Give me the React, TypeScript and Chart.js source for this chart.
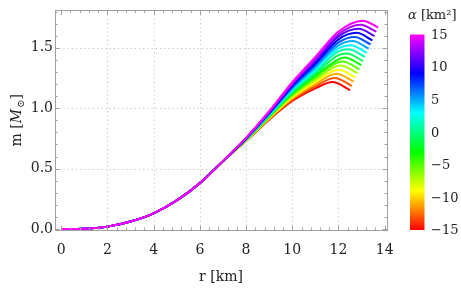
import React, { useEffect, useRef } from "react";
import { Chart, registerables } from "chart.js";

Chart.register(...registerables);

// ---- data ----
const alphaValues = [-15, -13, -11, -9, -7, -5, -3, -1, 1, 3, 5, 7, 9, 11, 13, 15];

// common inner part of every curve (r = 0..7 km)
const sharedRadii = [0, 1, 2, 3, 4, 5, 6, 7];
const sharedMass = [0, 0.003, 0.02, 0.062, 0.13, 0.237, 0.38, 0.562];

// per-curve values, one entry per alpha
const mass8 = [0.728, 0.730, 0.732, 0.734, 0.735, 0.737, 0.739, 0.741, 0.743, 0.745, 0.746, 0.748, 0.750, 0.752, 0.754, 0.755];
const mass9 = [0.905, 0.910, 0.914, 0.919, 0.924, 0.928, 0.933, 0.938, 0.942, 0.947, 0.952, 0.956, 0.961, 0.966, 0.970, 0.975];
const mass10 = [1.060, 1.070, 1.081, 1.091, 1.101, 1.112, 1.122, 1.132, 1.143, 1.153, 1.163, 1.174, 1.184, 1.194, 1.205, 1.215];
const mass11 = [1.165, 1.182, 1.200, 1.217, 1.234, 1.252, 1.269, 1.286, 1.304, 1.321, 1.338, 1.356, 1.373, 1.390, 1.408, 1.425];
const mass12 = [null, null, null, null, null, null, 1.405, 1.44, 1.47, 1.495, 1.52, 1.545, 1.57, 1.595, 1.615, 1.635];
const peakR = [11.75, 11.84, 11.92, 12.01, 12.10, 12.18, 12.27, 12.36, 12.44, 12.53, 12.62, 12.70, 12.79, 12.88, 12.96, 13.05];
const peakM = [1.217, 1.251, 1.285, 1.319, 1.353, 1.387, 1.420, 1.454, 1.488, 1.522, 1.556, 1.590, 1.624, 1.658, 1.692, 1.725];
const endR = [12.50, 12.58, 12.66, 12.74, 12.83, 12.91, 12.99, 13.07, 13.15, 13.23, 13.31, 13.39, 13.47, 13.56, 13.64, 13.72];
const endM = [1.150, 1.185, 1.220, 1.255, 1.290, 1.323, 1.357, 1.390, 1.425, 1.459, 1.493, 1.528, 1.562, 1.597, 1.634, 1.670];

// ticks
const xTicks = [0, 2, 4, 6, 8, 10, 12, 14];
const yTicks = [0, 0.5, 1.0, 1.5];
const xGrid = [2, 4, 6, 8, 10, 12];
const yGrid = [0.5, 1.0, 1.5];
const barTicks = [15, 10, 5, 0, -5, -10, -15];
const alphaMin = -15;
const alphaMax = 15;

const FONT = "'DejaVu Serif', 'Liberation Serif', serif";
const FRAME = "#a0a0a0";

function hueFor(a: number) {
  return ((a - alphaMin) / (alphaMax - alphaMin)) * 300;
}
function colorFor(a: number) {
  return `hsl(${hueFor(a)}, 100%, 50%)`;
}

function buildDatasets() {
  const n = alphaValues.length;
  return alphaValues.map((a, i) => {
    const pts: { x: number; y: number }[] = sharedRadii.map((r, k) => ({ x: r, y: sharedMass[k] }));
    pts.push({ x: 8, y: mass8[i] });
    pts.push({ x: 9, y: mass9[i] });
    pts.push({ x: 10, y: mass10[i] });
    pts.push({ x: 11, y: mass11[i] });
    if (mass12[i] != null) pts.push({ x: 12, y: mass12[i] as number });
    pts.push({ x: peakR[i], y: peakM[i] });
    pts.push({ x: endR[i], y: endM[i] });
    return {
      label: `alpha ${a}`,
      data: pts,
      borderColor: colorFor(a),
      backgroundColor: colorFor(a),
      borderWidth: 2,
      pointRadius: 0,
      fill: false,
      order: n - i,
      cubicInterpolationMode: "monotone" as const,
    };
  });
}

const decorPlugin = {
  id: "decor",
  beforeDatasetsDraw(chart: any) {
    const { ctx, chartArea, scales } = chart;
    const xs = scales.x;
    const ys = scales.y;
    ctx.save();
    ctx.strokeStyle = "rgba(150,150,150,0.55)";
    ctx.lineWidth = 1;
    ctx.setLineDash([1.2, 3]);
    xGrid.forEach((v) => {
      const px = Math.round(xs.getPixelForValue(v)) + 0.5;
      ctx.beginPath();
      ctx.moveTo(px, chartArea.top);
      ctx.lineTo(px, chartArea.bottom);
      ctx.stroke();
    });
    yGrid.forEach((v) => {
      const py = Math.round(ys.getPixelForValue(v)) + 0.5;
      ctx.beginPath();
      ctx.moveTo(chartArea.left, py);
      ctx.lineTo(chartArea.right, py);
      ctx.stroke();
    });
    ctx.restore();
  },
  afterDatasetsDraw(chart: any) {
    const { ctx, chartArea, scales } = chart;
    const xs = scales.x;
    const ys = scales.y;
    const { left, right, top, bottom } = chartArea;
    ctx.save();
    ctx.strokeStyle = FRAME;
    ctx.lineWidth = 1;
    ctx.strokeRect(Math.round(left) + 0.5, Math.round(top) + 0.5, Math.round(right - left), Math.round(bottom - top));
    for (let k = 0; k <= 35; k++) {
      const v = k * 0.4;
      if (v > 14.05) break;
      const major = k % 5 === 0;
      const len = major ? 4.5 : 2.5;
      const px = Math.round(xs.getPixelForValue(v)) + 0.5;
      ctx.beginPath();
      ctx.moveTo(px, bottom);
      ctx.lineTo(px, bottom - len);
      ctx.moveTo(px, top);
      ctx.lineTo(px, top + len);
      ctx.stroke();
    }
    for (let k = 0; k <= 18; k++) {
      const v = k * 0.1;
      if (v > 1.805) break;
      const major = k % 5 === 0;
      const len = major ? 4.5 : 2.5;
      const py = Math.round(ys.getPixelForValue(v)) + 0.5;
      ctx.beginPath();
      ctx.moveTo(left, py);
      ctx.lineTo(left + len, py);
      ctx.moveTo(right, py);
      ctx.lineTo(right - len, py);
      ctx.stroke();
    }
    ctx.restore();
  },
  afterDraw(chart: any) {
    const { ctx, chartArea } = chart;
    ctx.save();
    ctx.fillStyle = "#222";
    // x title
    ctx.font = `14px ${FONT}`;
    ctx.textAlign = "center";
    ctx.textBaseline = "alphabetic";
    ctx.fillText("r [km]", (chartArea.left + chartArea.right) / 2, 281);

    // y title (rotated): m [M_⊙]
    ctx.save();
    ctx.translate(21, (chartArea.top + chartArea.bottom) / 2);
    ctx.rotate(-Math.PI / 2);
    ctx.textAlign = "left";
    const reg = `14px ${FONT}`;
    const ita = `italic 14px ${FONT}`;
    const sub = `10px ${FONT}`;
    ctx.font = reg;
    const w1 = ctx.measureText("m [").width;
    ctx.font = ita;
    const w2 = ctx.measureText("M").width;
    ctx.font = sub;
    const w3 = ctx.measureText("\u2299").width;
    ctx.font = reg;
    const w4 = ctx.measureText("]").width;
    let x0 = -(w1 + w2 + w3 + w4 + 1) / 2;
    ctx.font = reg;
    ctx.fillText("m [", x0, 0);
    x0 += w1;
    ctx.font = ita;
    ctx.fillText("M", x0, 0);
    x0 += w2 + 1;
    ctx.font = sub;
    ctx.fillText("\u2299", x0, 3);
    x0 += w3;
    ctx.font = reg;
    ctx.fillText("]", x0, 0);
    ctx.restore();

    // colour bar
    const bx = 410;
    const bw = 14.5;
    const bTop = 34.5;
    const bBot = 230;
    const grad = ctx.createLinearGradient(0, bBot, 0, bTop);
    for (let h = 0; h <= 300; h += 15) {
      grad.addColorStop(h / 300, `hsl(${h}, 100%, 50%)`);
    }
    ctx.fillStyle = grad;
    ctx.fillRect(bx, bTop, bw, bBot - bTop);

    ctx.fillStyle = "#222";
    ctx.font = `13px ${FONT}`;
    ctx.textAlign = "left";
    ctx.textBaseline = "middle";
    barTicks.forEach((v) => {
      const y = bBot - ((v - alphaMin) / (alphaMax - alphaMin)) * (bBot - bTop);
      const txt = v < 0 ? `\u2212${Math.abs(v)}` : `${v}`;
      ctx.fillText(txt, 431, y + 1);
    });

    // colour bar title: α [km²]
    ctx.textBaseline = "alphabetic";
    ctx.font = `italic 13px ${FONT}`;
    ctx.fillText("\u03b1", 408, 19);
    const wa = ctx.measureText("\u03b1").width;
    ctx.font = `13px ${FONT}`;
    ctx.fillText(" [km\u00b2]", 408 + wa, 19);
    ctx.restore();
  },
};

export default function App() {
  const ref = useRef<HTMLCanvasElement | null>(null);
  useEffect(() => {
    if (!ref.current) return;
    const chart = new Chart(ref.current, {
      type: "line",
      data: { datasets: buildDatasets() as any },
      options: {
        responsive: false,
        animation: false,
        layout: { padding: { left: 0, top: 3, right: 74, bottom: 0 } },
        plugins: { legend: { display: false }, tooltip: { enabled: false } },
        scales: {
          x: {
            type: "linear",
            min: -0.27,
            max: 14.1,
            grid: { display: false, drawTicks: false },
            border: { display: false },
            afterBuildTicks: (s: any) => {
              s.ticks = xTicks.map((v) => ({ value: v }));
            },
            afterFit: (s: any) => {
              s.height = 61;
            },
            ticks: {
              color: "#222",
              font: { family: FONT, size: 14 },
              padding: 12,
              maxRotation: 0,
              autoSkip: false,
              callback: (v: any) => String(v),
            },
          },
          y: {
            type: "linear",
            min: -0.008,
            max: 1.81,
            grid: { display: false, drawTicks: false },
            border: { display: false },
            afterBuildTicks: (s: any) => {
              s.ticks = yTicks.map((v) => ({ value: v }));
            },
            afterFit: (s: any) => {
              s.width = 55;
            },
            ticks: {
              color: "#222",
              font: { family: FONT, size: 14 },
              padding: 2,
              autoSkip: false,
              callback: (v: any) => Number(v).toFixed(1),
            },
          },
        },
      },
      plugins: [decorPlugin],
    });
    return () => chart.destroy();
  }, []);
  return (
    <div style={{ position: "fixed", left: 0, top: 0, width: 461, height: 291, background: "#fff" }}>
      <canvas ref={ref} width={461} height={291} style={{ display: "block", width: 461, height: 291 }} />
    </div>
  );
}
